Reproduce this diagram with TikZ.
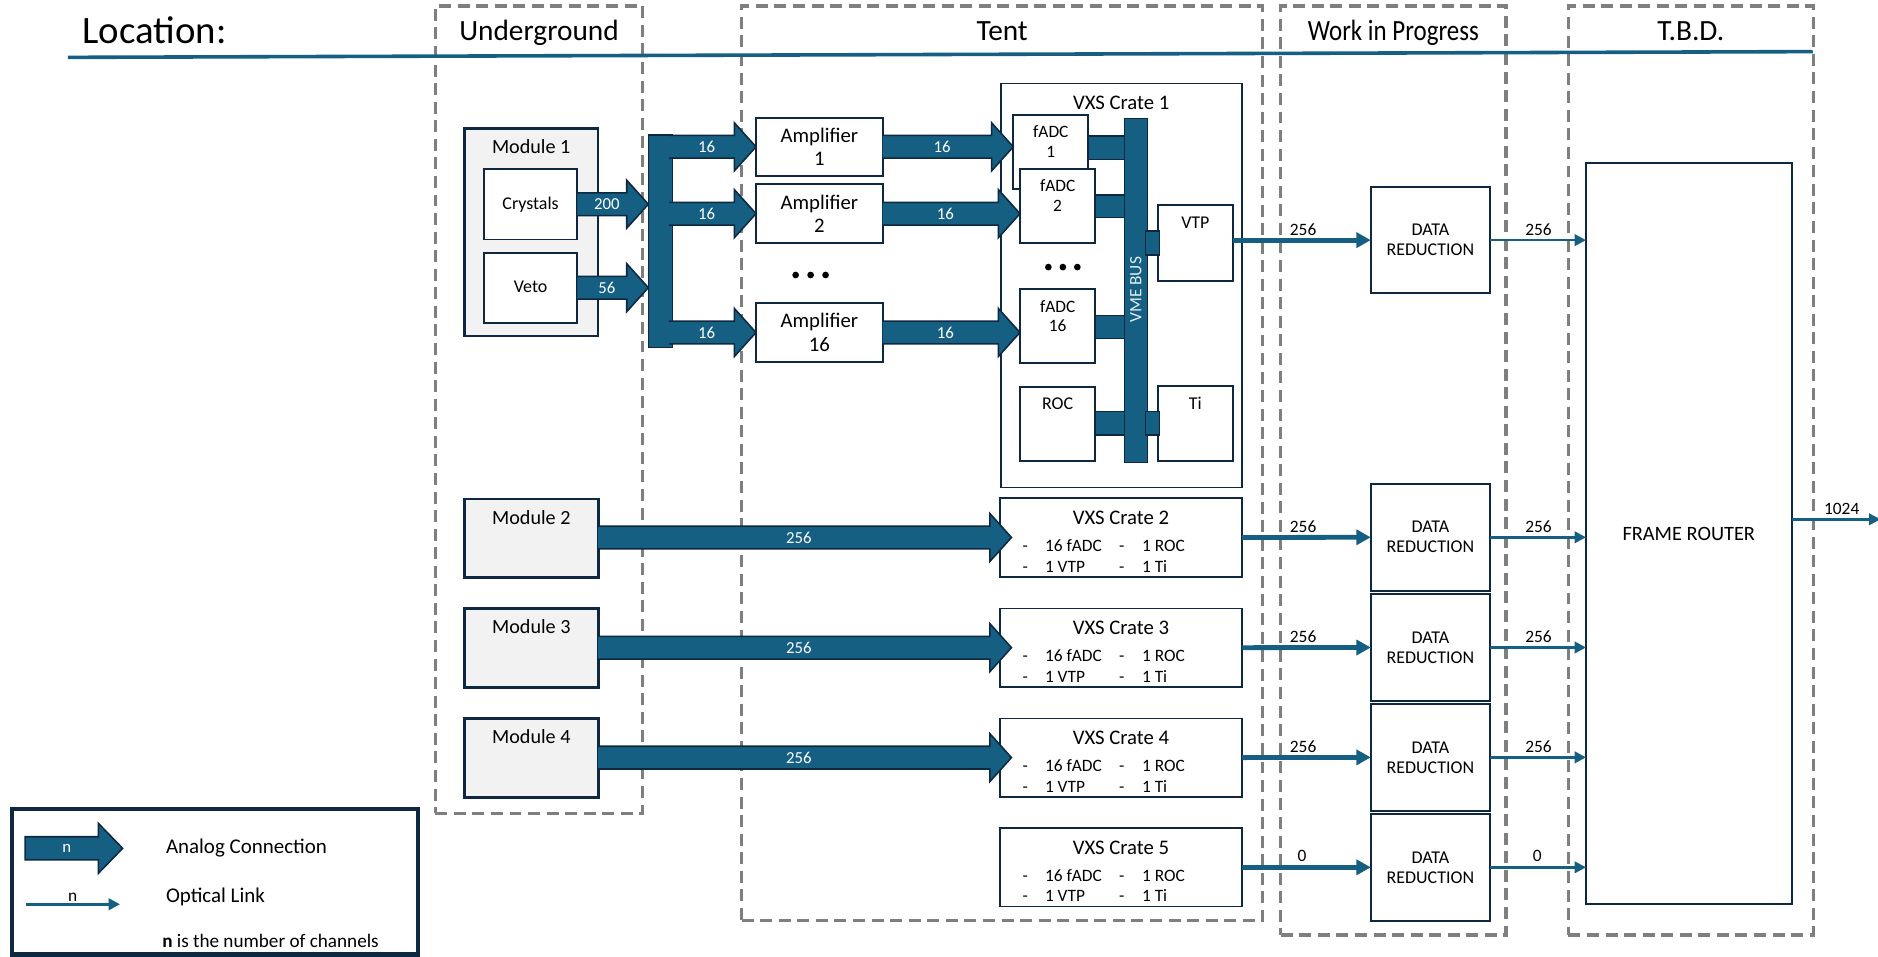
\documentclass[tikz,border=0pt]{standalone}
\usepackage{fontspec}
\setmainfont{Carlito}
\usepackage{graphicx}
\usetikzlibrary{calc,arrows.meta}
\definecolor{acc}{HTML}{156082}
\definecolor{navy}{HTML}{0E2841}
\definecolor{zgray}{HTML}{7F7F7F}
\definecolor{lgray}{HTML}{F2F2F2}
\tikzset{
  bx/.style={draw=navy,line width=1.6pt,fill=white,inner sep=0pt,outer sep=0pt},
  modb/.style={bx,fill=lgray,line width=2.3pt},
  cratebox/.style={bx,line width=1.4pt},
  zone/.style={draw=zgray,line width=2.6pt,dash pattern=on 10pt off 5.5pt,inner sep=0pt,outer sep=0pt},
  bar/.style={fill=acc,draw=navy,line width=1.3pt,inner sep=0pt,outer sep=0pt},
  stub/.style={fill=acc,draw=navy,line width=1.1pt},
  txt/.style={inner sep=0pt,outer sep=0pt,anchor=base,text=black},
  fs/.style={font=\fontsize{#1}{#1}\selectfont},
  num/.style={inner sep=0pt,outer sep=0pt,text=white,font=\fontsize{14}{14}\selectfont},
  amptxt/.style={font=\fontsize{17.3}{19.5}\selectfont,align=center},
  drtxt/.style={font=\fontsize{15}{16.7}\selectfont,align=center},
  optk/.style={draw=acc,line width=4pt,-{Triangle[length=12pt,width=12.5pt]}},
  optn/.style={draw=acc,line width=2.2pt,-{Triangle[length=9.5pt,width=9.5pt]}},
}
% box by corners: [text]{name}{style}{x1}{y1}{x2}{y2}
\newcommand\mkbox[7][]{\node[#3,anchor=north west,minimum width={(#6)-(#4)},minimum height={(#7)-(#5)}] (#2) at (#4,#5) {#1};}
% block arrow: {label node name}{start}{tip}{label}
\newcommand\barr[4]{%
 \fill[acc] let \p1=(#2),\p2=(#3) in (\x1,\y1+9.5pt) -- (\x2-18pt,\y1+9.5pt) -- (\x2-18pt,\y1+20pt) -- (\x2,\y1) -- (\x2-18pt,\y1-20pt) -- (\x2-18pt,\y1-9.5pt) -- (\x1,\y1-9.5pt) -- cycle;
 \draw[navy,line width=1.3pt,line join=miter] let \p1=(#2),\p2=(#3) in (\x1,\y1+9.5pt) -- (\x2-18pt,\y1+9.5pt) -- (\x2-18pt,\y1+20pt) -- (\x2,\y1) -- (\x2-18pt,\y1-20pt) -- (\x2-18pt,\y1-9.5pt) -- (\x1,\y1-9.5pt) node[num] (#1) at ({0.5*(\x1+\x2)-5pt},\y1) {#4};}
% VXS crate with bullet list: {name}{top y}{number}
\newcommand\vxscrate[3]{%
 \mkbox{#1}{cratebox}{835}{#2}{1036.9}{#2+65.5}
 \node[txt,fs=17.3] (#1-t) at ($(#1.north)+(0,22)$) {VXS Crate #3};
 \node[txt,fs=14.5] (#1-d1) at ($(#1.north west)+(21,44.6)$) {-};
 \node[txt,fs=14.5,anchor=base west] (#1-a) at ($(#1.north west)+(37.5,44.6)$) {16 fADC};
 \node[txt,fs=14.5] (#1-d2) at ($(#1.north west)+(101.5,44.6)$) {-};
 \node[txt,fs=14.5,anchor=base west] (#1-b) at ($(#1.north west)+(118.5,44.6)$) {1 ROC};
 \node[txt,fs=14.5] (#1-d3) at ($(#1.north west)+(21,61.6)$) {-};
 \node[txt,fs=14.5,anchor=base west] (#1-c) at ($(#1.north west)+(37.5,61.6)$) {1 VTP};
 \node[txt,fs=14.5] (#1-d4) at ($(#1.north west)+(101.5,61.6)$) {-};
 \node[txt,fs=14.5,anchor=base west] (#1-e) at ($(#1.north west)+(118.5,61.6)$) {1 Ti};
}
\begin{document}
\begin{tikzpicture}[x=1pt,y=-1pt]
\useasboundingbox (0,0) rectangle (1568,799);
% ---------- location zones ----------
\mkbox{ug}{zone}{363.4}{5}{536.7}{679}
\mkbox{tent}{zone}{619.2}{5}{1054.3}{768.7}
\mkbox{wip}{zone}{1069.3}{5}{1257.4}{780.7}
\mkbox{tbd}{zone}{1309.5}{5}{1513.8}{780.7}
\draw[acc,line width=3pt] (56.7,47.9) -- (1513.5,43.1);
\node[txt,fs=32.4,anchor=base west] (loc) at (69,36.2) {Location:};
\node[txt,fs=24.5] (h-ug) at (ug.north |- 0,34) {Underground};
\node[txt,fs=24.5] (h-tent) at (tent.north |- 0,34) {Tent};
\node[txt,fs=24.5] (h-wip) at (wip.north |- 0,34) {\scalebox{0.85}[1]{Work in Progress}};
\node[txt,fs=24.5] (h-tbd) at (tbd.north |- 0,34) {T.B.D.};
% ---------- module 1 ----------
\mkbox{mod1}{modb}{387.7}{107}{499.3}{280.5}
\node[txt,fs=16.8] (t-mod1) at ($(mod1.north)+(0,21.3)$) {Module 1};
\mkbox{crys}{bx}{404}{141}{482}{200}
\node[txt,fs=15] (t-crys) at ($(crys.center)+(0,4.4)$) {Crystals};
\mkbox{veto}{bx}{404}{211}{482}{269.4}
\node[txt,fs=15] (t-veto) at ($(veto.center)+(0,4.4)$) {Veto};
\mkbox{bus}{bar}{541.3}{112.7}{561.6}{290}
\barr{a200}{crys.east}{bus.west |- crys.east}{200}
\barr{a56}{veto.east}{bus.west |- veto.east}{56}
% ---------- amplifiers ----------
\mkbox[Amplifier\\1]{amp1}{bx,amptxt}{631.2}{98.5}{737}{146.7}
\mkbox[Amplifier\\2]{amp2}{bx,amptxt}{631.2}{153.6}{737}{203.2}
\mkbox[Amplifier\\16]{amp16}{bx,amptxt}{631.2}{252.7}{737}{302.5}
\barr{b1}{$(bus.east |- amp1.west)+(-3,0)$}{amp1.west}{16}
\barr{b2}{$(bus.east |- amp2.west)+(-3,0)$}{amp2.west}{16}
\barr{b16}{$(bus.east |- amp16.west)+(-3,0)$}{amp16.west}{16}
\foreach \i in {0,1,2} \fill (664.3+12.5*\i,229.6) circle (2.8pt);
% ---------- VXS crate 1 ----------
\mkbox{crate1}{cratebox}{835.5}{69.6}{1036.8}{406.9}
\node[txt,fs=17.3] (t-crate1) at ($(crate1.north)+(0,21.5)$) {VXS Crate 1};
\mkbox{fadc1}{bx}{846}{96}{908.7}{158}
\mkbox{fadc2}{bx}{851.6}{141}{914.5}{203}
\mkbox{fadc16}{bx}{851.6}{241.3}{914.5}{303.4}
\mkbox{roc}{bx}{851.6}{322.9}{914.5}{385}
\mkbox{vme}{bar}{938.7}{98.8}{958}{386}
\mkbox{vtp}{bx}{966.9}{171.4}{1029.2}{234.6}
\mkbox{ti}{bx}{966.9}{322.3}{1029.2}{385}
\node[txt,fs=14.5] (t-f1a) at ($(fadc1.north)+(0,19.2)$) {fADC};
\node[txt,fs=14.5] (t-f1b) at ($(fadc1.north)+(0,35.7)$) {1};
\node[txt,fs=14.5] (t-f2a) at ($(fadc2.north)+(0,19.2)$) {fADC};
\node[txt,fs=14.5] (t-f2b) at ($(fadc2.north)+(0,35.7)$) {2};
\node[txt,fs=14.5] (t-f16a) at ($(fadc16.north)+(0,19.2)$) {fADC};
\node[txt,fs=14.5] (t-f16b) at ($(fadc16.north)+(0,35.7)$) {16};
\node[txt,fs=15] (t-roc) at ($(roc.north)+(0,19.2)$) {ROC};
\node[txt,fs=15] (t-vtp) at ($(vtp.north)+(0,19.2)$) {VTP};
\node[txt,fs=15] (t-ti) at ($(ti.north)+(0,19.2)$) {Ti};
\node[rotate=90,inner sep=0pt,text=acc!12,fs=14.5] (t-vme) at (vme.center |- 0,242) {VME BUS};
\draw[stub] (fadc1.east |- 0,113.6) rectangle (vme.west |- 0,133);
\draw[stub] (fadc2.east |- 0,162.8) rectangle (vme.west |- 0,181.7);
\draw[stub] (fadc16.east |- 0,263.6) rectangle (vme.west |- 0,282.5);
\draw[stub] (roc.east |- 0,343.7) rectangle (vme.west |- 0,363.2);
\draw[stub] ($(vme.east |- 0,343.7)+(-1.5,0)$) rectangle ($(ti.west |- 0,363.2)+(1,0)$);
\draw[stub] ($(vme.east |- 0,192.9)+(-1.5,0)$) rectangle ($(vtp.west |- 0,212.9)+(1,0)$);
\foreach \i in {0,1,2} \fill (875.3+12.1*\i,223) circle (2.8pt);
\barr{c1}{amp1.east}{fadc1.west |- amp1.east}{16}
\barr{c2a}{amp2.east}{fadc2.west |- amp2.east}{16}
\barr{c16}{amp16.east}{fadc16.west |- amp16.east}{16}
% ---------- modules 2-4 and crates 2-5 ----------
\mkbox{mod2}{modb}{387.8}{416.6}{499.4}{482.3}
\mkbox{mod3}{modb}{387.8}{508}{499.4}{574.2}
\mkbox{mod4}{modb}{387.8}{599.8}{499.4}{665.6}
\node[txt,fs=16.8] (t-mod2) at ($(mod2.north)+(0,21)$) {Module 2};
\node[txt,fs=16.8] (t-mod3) at ($(mod3.north)+(0,21)$) {Module 3};
\node[txt,fs=16.8] (t-mod4) at ($(mod4.north)+(0,21)$) {Module 4};
\vxscrate{vc2}{416}{2}
\vxscrate{vc3}{508}{3}
\vxscrate{vc4}{599.8}{4}
\vxscrate{vc5}{691.4}{5}
\barr{m2}{mod2.east |- vc2.west}{$(vc2.west)+(9.5,0)$}{256}
\barr{m3}{mod3.east |- vc3.west}{$(vc3.west)+(9.5,0)$}{256}
\barr{m4}{mod4.east |- vc4.west}{$(vc4.west)+(9.5,0)$}{256}
% ---------- data reduction ----------
\mkbox[DATA\\REDUCTION]{dr1}{bx,drtxt}{1144.5}{156}{1244}{245}
\mkbox[DATA\\REDUCTION]{dr2}{bx,drtxt}{1144.5}{404}{1244}{493.2}
\mkbox[DATA\\REDUCTION]{dr3}{bx,drtxt}{1144.5}{496.2}{1244}{585}
\mkbox[DATA\\REDUCTION]{dr4}{bx,drtxt}{1144.5}{587.8}{1244}{676.9}
\mkbox[DATA\\REDUCTION]{dr5}{bx,drtxt}{1144.5}{679.6}{1244}{768.7}
% ---------- frame router ----------
\mkbox{fr}{bx}{1324.2}{135.8}{1495.8}{755}
\node[txt,fs=17] (t-fr) at (fr.center |- 0,451.3) {FRAME ROUTER};
% ---------- optical links ----------
\draw[optk] (vtp.east |- dr1.west) -- (dr1.west);
\draw[optk] (vc2.east) -- (dr2.west);
\draw[optk] (vc3.east) -- (dr3.west);
\draw[optk] (vc4.east) -- (dr4.west);
\draw[optk] (vc5.east) -- (dr5.west);
\draw[optn] (dr1.east) -- (fr.west |- dr1.east);
\draw[optn] (dr2.east) -- (fr.west |- dr2.east);
\draw[optn] (dr3.east) -- (fr.west |- dr3.east);
\draw[optn] (dr4.east) -- (fr.west |- dr4.east);
\draw[optn] (dr5.east) -- (fr.west |- dr5.east);
\coordinate (out) at (1570,433.6);
\draw[optn] (fr.east |- out) -- (out);
\node[txt,fs=14.5] (l1a) at (1088,196.3) {256};
\node[txt,fs=14.5] (l2a) at (1088,444.2) {256};
\node[txt,fs=14.5] (l3a) at (1088,536.2) {256};
\node[txt,fs=14.5] (l4a) at (1088,628) {256};
\node[txt,fs=14.5] (l5a) at (1087,719.7) {0};
\node[txt,fs=14.5] (l1b) at (1284.6,196.3) {256};
\node[txt,fs=14.5] (l2b) at (1284.6,444.2) {256};
\node[txt,fs=14.5] (l3b) at (1284.6,536.2) {256};
\node[txt,fs=14.5] (l4b) at (1284.6,628) {256};
\node[txt,fs=14.5] (l5b) at (1283.6,719.7) {0};
\node[txt,fs=14.5] (lout) at (1537.7,429.3) {1024};
% ---------- legend ----------
\mkbox{leg}{bx,line width=3.5pt}{9.7}{675.5}{349.3}{797}
\filldraw[fill=acc,draw=navy,line width=1.3pt] (20.9,698.6) -- (82.1,698.6) -- (82.1,687.4) -- (102.4,708.3) -- (82.1,729.2) -- (82.1,718) -- (20.9,718) -- cycle;
\node[num] (leg-n1) at (55.7,708.3) {n};
\coordinate (lo1) at (21.7,755);
\coordinate (lo2) at (100.2,755);
\draw[optn] (lo1) -- (lo2);
\node[txt,fs=14.5] (leg-n2) at (60.7,752.5) {n};
\node[txt,fs=17.5,anchor=base west] (leg-a) at (138.6,713) {Analog Connection};
\node[txt,fs=17.5,anchor=base west] (leg-o) at (138.6,753.6) {Optical Link};
\node[txt,fs=16,anchor=base west] (leg-c) at (135.5,791.2) {\textbf{n} is the number of channels};
\end{tikzpicture}
\end{document}
